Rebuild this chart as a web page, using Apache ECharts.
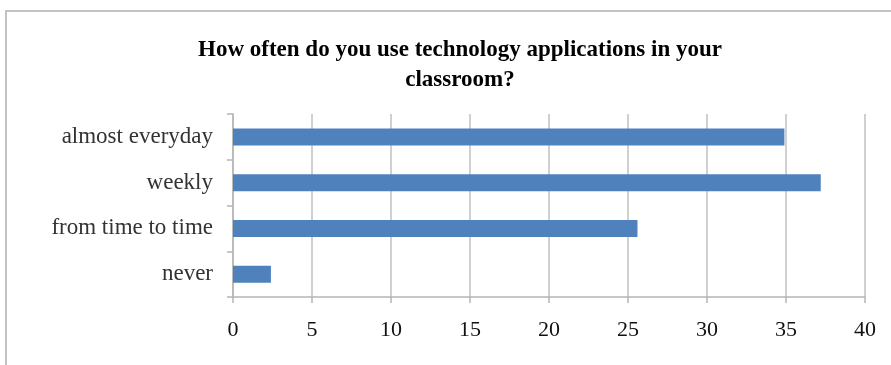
<!DOCTYPE html>
<html>
<head>
<meta charset="utf-8">
<script src="https://cdn.jsdelivr.net/npm/echarts@6/dist/echarts.min.js"></script>
<style>
  html, body { margin: 0; padding: 0; background: #fff; }
  #chart { width: 891px; height: 365px; }
</style>
</head>
<body>
<div id="chart"></div>
<script>
// categories bottom -> top, as ECharts lays out a category y axis
const categories = ['never', 'from time to time', 'weekly', 'almost everyday']
const values = [2.4, 25.6, 37.2, 34.9]
const xTicks = { min: 0, max: 40, interval: 5 }

const chart = echarts.init(document.getElementById('chart'))

const serif = '"Liberation Serif", "DejaVu Serif", serif'

const option = {
  backgroundColor: '#fff',
  animation: false,
  title: {
    text: 'How often do you use technology applications in your\nclassroom?',
    left: 455,
    textAlign: 'center',
    top: 30,
    textStyle: {
      fontFamily: serif,
      fontWeight: 'bold',
      fontSize: 23,
      color: '#000',
      lineHeight: 30,
    },
  },
  graphic: [
    {
      type: 'rect',
      shape: { x: 6, y: 11, width: 1000, height: 500 },
      style: { fill: 'none', stroke: '#b0b0b0', lineWidth: 1.5 },
      silent: true,
    },
  ],
  grid: { left: 233, right: 26, top: 114, bottom: 68 },
  xAxis: {
    type: 'value',
    min: xTicks.min,
    max: xTicks.max,
    interval: xTicks.interval,
    axisLine: { show: true, lineStyle: { color: '#b5b5b5', width: 1.5 } },
    axisTick: { show: true, length: 6, lineStyle: { color: '#b5b5b5', width: 1.5 } },
    splitLine: { show: true, lineStyle: { color: '#c0c0c0', width: 1.5 } },
    axisLabel: {
      fontFamily: serif,
      fontSize: 22,
      color: '#111',
      margin: 22,
    },
  },
  yAxis: {
    type: 'category',
    data: categories,
    axisLine: { show: true, lineStyle: { color: '#b5b5b5', width: 1.5 } },
    axisTick: { show: true, length: 6, lineStyle: { color: '#b5b5b5', width: 1.5 } },
    axisLabel: {
      fontFamily: serif,
      fontSize: 23,
      color: '#333',
      margin: 20,
    },
  },
  series: [
    {
      type: 'bar',
      data: values,
      barWidth: 17,
      itemStyle: { color: '#4f81bd' },
    },
  ],
}

chart.setOption(option)
</script>
</body>
</html>
